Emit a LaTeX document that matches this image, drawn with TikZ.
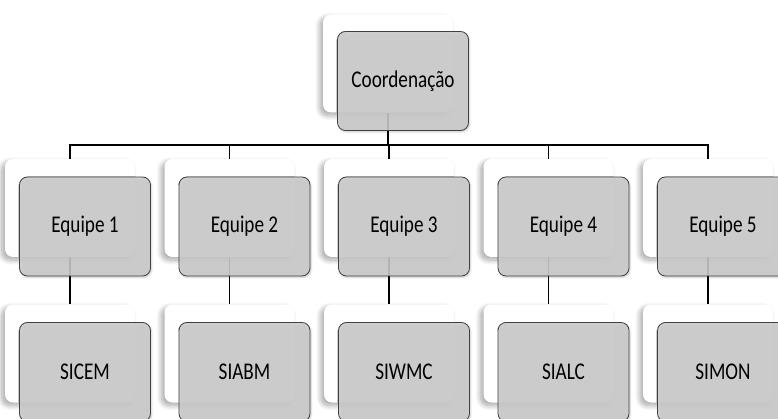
\documentclass[tikz,border=0pt]{standalone}
\usepackage{fontspec}
\setmainfont{Carlito}
\usetikzlibrary{shadows.blur}

% the reference lettering is narrow and tall
\newcommand{\cardtext}[1]{\scalebox{0.8}[1]{#1}}

\tikzset{
  backcard/.style={rectangle, rounded corners=8pt, fill=white, minimum width=130pt, minimum height=98pt,
    blur shadow={shadow xshift=-3pt, shadow yshift=-3pt, shadow blur radius=5pt, shadow blur steps=10, shadow opacity=35}},
  frontcard/.style={rectangle, rounded corners=8pt, draw=black!75, line width=0.8pt, fill=gray!40,
    fill opacity=0.88, text opacity=1, minimum width=131pt, minimum height=99pt,
    font=\fontsize{24}{28}\selectfont, text=black,
    blur shadow={shadow xshift=1pt, shadow yshift=-1.5pt, shadow blur steps=4, shadow opacity=25}},
  bar/.style={line width=1.6pt, black}
}

\begin{document}
\begin{tikzpicture}[x=1pt,y=-1pt]
  \useasboundingbox (0,0) rectangle (778,419);

  % cards behind
  \node[backcard] (coordB) at (388,63.5) {};
  \foreach \i in {1,...,5} {
    \node[backcard] (eqB\i) at ({70+159.5*(\i-1)},208) {};
    \node[backcard] (siB\i) at ({70+159.5*(\i-1)},353.5) {};
  }

  % connectors
  \coordinate (bus) at (388,145);
  \draw[bar] (coordB.south) -- (bus);
  \draw[bar] (eqB1.north) -- (eqB1.north |- bus) -- (eqB5.north |- bus) -- (eqB5.north);
  \foreach \i in {2,3,4}
    \draw[bar] (eqB\i.north) -- (eqB\i.north |- bus);
  \foreach \i in {1,...,5}
    \draw[bar] (eqB\i.south) -- (siB\i.north);

  % cards in front
  \node[frontcard] (coordF) at (403,81) {\cardtext{Coordenação}};
  \foreach \i/\eq/\si in {1/Equipe 1/SICEM, 2/Equipe 2/SIABM, 3/Equipe 3/SIWMC, 4/Equipe 4/SIALC, 5/Equipe 5/SIMON} {
    \node[frontcard] (eqF\i) at ({85+159.5*(\i-1)},226.5) {\cardtext{\eq}};
    \node[frontcard] (siF\i) at ({85+159.5*(\i-1)},372) {\cardtext{\si}};
  }
\end{tikzpicture}
\end{document}
